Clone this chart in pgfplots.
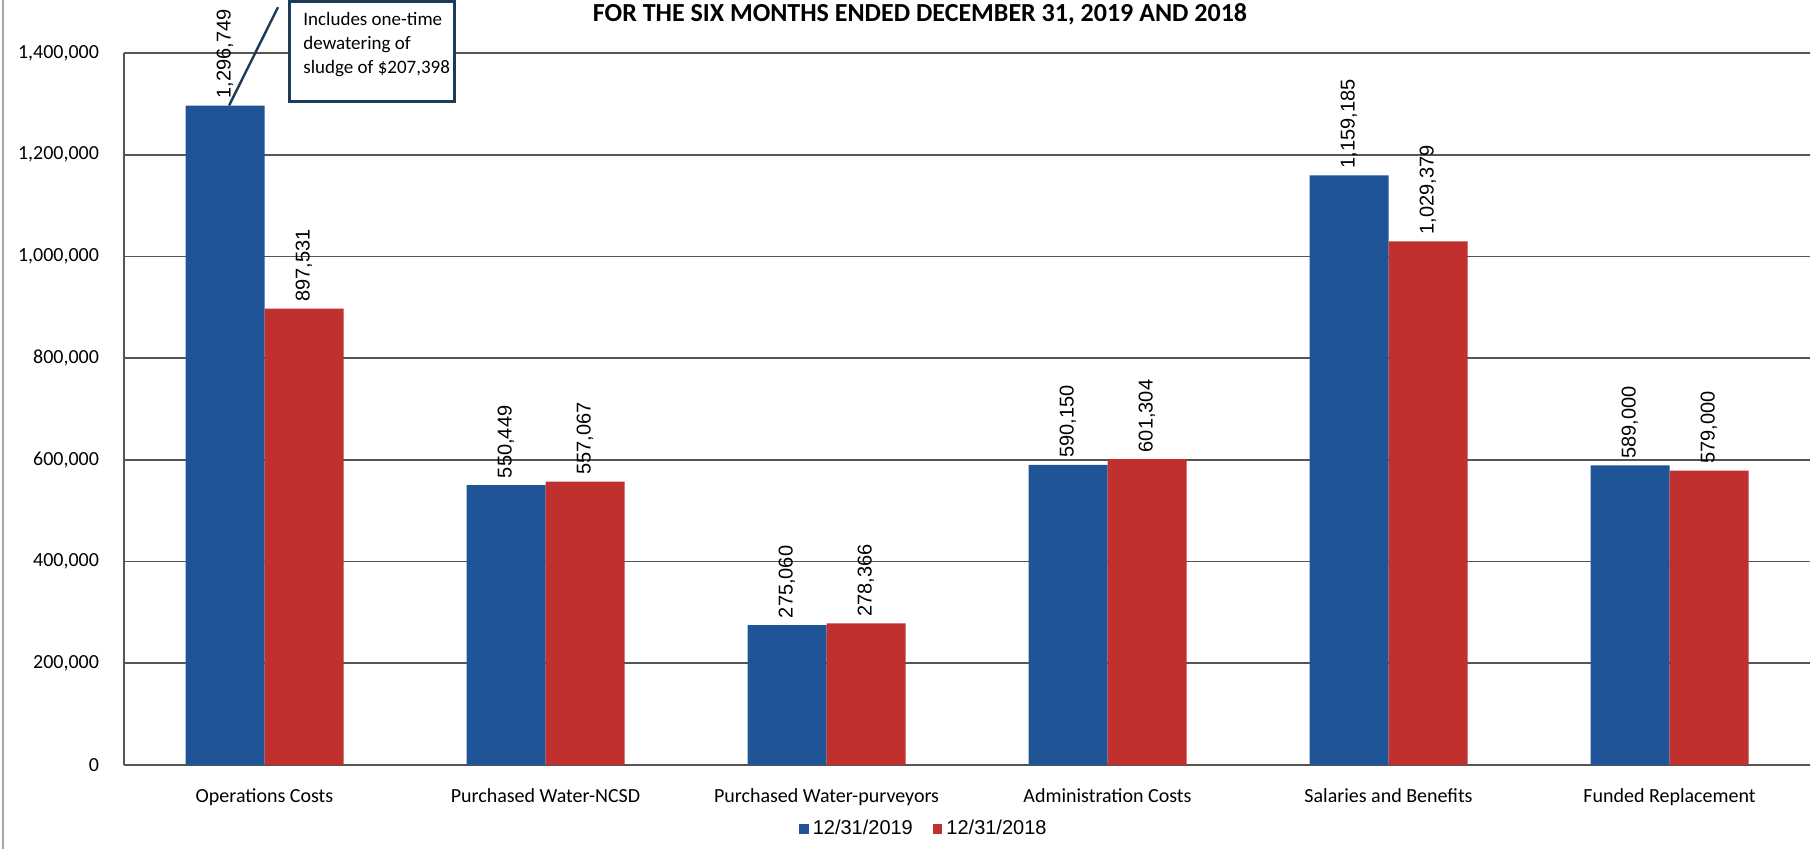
\documentclass[border=0pt]{standalone}
\usepackage{pgfplots}
\pgfplotsset{compat=1.18}
\usepackage{pgfplotstable}
\usepackage{fontspec}
\setmainfont{Carlito}
\newfontfamily\arialf{Liberation Sans}
\definecolor{bblue}{HTML}{1F5597}
\definecolor{bred}{HTML}{C0302F}
\definecolor{gridc}{HTML}{555555}
\definecolor{navy}{HTML}{1B3A5C}
\pgfplotstableread{
x y lab
0 1296749 1,296,749
1 550449 550,449
2 275060 275,060
3 590150 590,150
4 1159185 1,159,185
5 589000 589,000
}\tblA
\pgfplotstableread{
x y lab
0 897531 897,531
1 557067 557,067
2 278366 278,366
3 601304 601,304
4 1029379 1,029,379
5 579000 579,000
}\tblB
\begin{document}
\begin{tikzpicture}
\useasboundingbox (0,0) rectangle (907.5bp,424.5bp);
\fill[white] (0,0) rectangle (907.5bp,424.5bp);
\draw[gray!70, line width=0.8bp] (1.5bp,0) -- (1.5bp,424.5bp);
\begin{axis}[
  at={(62bp,42bp)}, anchor=south west,
  scale only axis, width=843bp, height=356bp,
  clip=false,
  xmin=-0.5, xmax=5.5, ymin=0, ymax=1400000,
  ybar=0pt, bar width=39.5bp,
  xtick=data,
  xticklabels={Operations Costs, Purchased Water-NCSD, Purchased Water-purveyors, Administration Costs, Salaries and Benefits, Funded Replacement},
  ytick={0,200000,400000,600000,800000,1000000,1200000,1400000},
  scaled y ticks=false,
  /pgf/number format/fixed,
  /pgf/number format/1000 sep={,},
  /pgf/number format/assume math mode=true,
  yticklabel style={font=\fontsize{10bp}{12bp}\selectfont, xshift=-9bp},
  xticklabel style={font=\fontsize{10bp}{12bp}\selectfont, yshift=-4bp},
  axis x line*=bottom, axis y line*=left,
  axis line style={gridc, line width=0.8bp},
  ymajorgrids, major grid style={gridc, line width=0.8bp},
  tick style={draw=none},
  point meta=explicit symbolic,
  nodes near coords,
  nodes near coords style={rotate=90, anchor=west, font=\arialf\fontsize{10bp}{12bp}\selectfont, black},
  legend style={at={(0.475,-0.09)}, anchor=center, draw=none, legend columns=2,
    font=\arialf\fontsize{10bp}{12bp}\selectfont,
    /tikz/every even column/.append style={column sep=8bp}},
  legend image code/.code={\fill[#1] (0bp,-2.4bp) rectangle (4.8bp,2.4bp);},
]
\addplot[fill=bblue, draw=none] table[x=x,y=y,meta=lab]{\tblA};
\addplot[fill=bred, draw=none] table[x=x,y=y,meta=lab]{\tblB};
\legend{12/31/2019, 12/31/2018}
\draw[navy, line width=1.2bp] (axis cs:-0.126,1296749) -- (axis cs:0.048,1490000);
\end{axis}
\draw[navy, line width=1.5bp, fill=white] (144.5bp,373.5bp) rectangle (227bp,423.5bp);
\node[anchor=north west, align=left, font=\fontsize{9.5bp}{12bp}\selectfont, inner sep=0pt] at (151.5bp,418.3bp) {Includes one-time\\dewatering of\\sludge of \$207,398};
\node[font=\bfseries\fontsize{13bp}{15bp}\selectfont] at (460bp,417.5bp) {FOR THE SIX MONTHS ENDED DECEMBER 31, 2019 AND 2018};
\end{tikzpicture}
\end{document}
